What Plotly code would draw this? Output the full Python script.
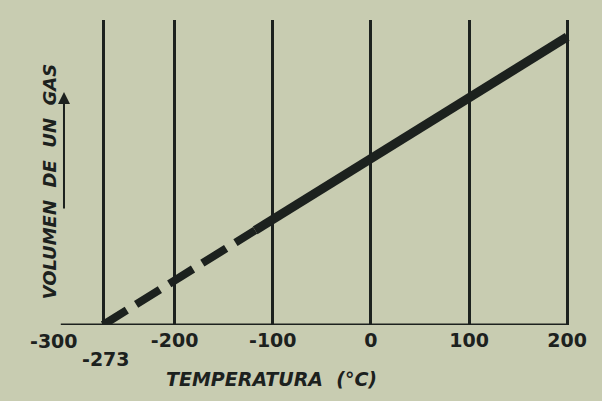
import plotly.graph_objects as go

# ---- data ----
VERTICAL_LINES = [-273, -200, -100, 0, 100, 200]
TICK_TEXT = ["", "-200", "-100", "0", "100", "200"]
EXTRA_LABELS = ["-300", "-273"]
EXTRA_LABEL_X = [-323, -270]

AXIS_X = [-316, 200]
AXIS_Y = [0, 0]

TEMP_DASHED = [-273, -118]
VOL_DASHED = [0.0, 0.57]
TEMP_SOLID = [-118, 200]
VOL_SOLID = [0.57, 1.735]

BG = "#c8ccb1"
INK = "#1c211e"
FONT = "DejaVu Sans"

fig = go.Figure()

fig.add_trace(go.Scatter(x=AXIS_X, y=AXIS_Y, mode="lines",
                         line=dict(color=INK, width=3), hoverinfo="skip"))
fig.add_trace(go.Scatter(x=TEMP_DASHED, y=VOL_DASHED, mode="lines",
                         line=dict(color=INK, width=8, dash="28px,11px"),
                         hoverinfo="skip"))
fig.add_trace(go.Scatter(x=TEMP_SOLID, y=VOL_SOLID, mode="lines",
                         line=dict(color=INK, width=9), hoverinfo="skip"))

fig.update_xaxes(range=[-327, 211], tickvals=VERTICAL_LINES, ticktext=TICK_TEXT,
                 showgrid=True, gridcolor=INK, gridwidth=3, zeroline=False,
                 showline=False, ticks="", ticklabelstandoff=2,
                 tickfont=dict(family=FONT, size=19, color=INK, weight="bold"))
fig.update_yaxes(range=[0, 1.837], showgrid=False, zeroline=False,
                 showticklabels=False, showline=False, ticks="")

annotations = []
for txt, xv, yshift in zip(EXTRA_LABELS, EXTRA_LABEL_X, [-16, -34]):
    annotations.append(dict(x=xv, y=0, xref="x", yref="y", text=txt,
                            showarrow=False, yshift=yshift,
                            font=dict(family=FONT, size=19, color=INK,
                                      weight="bold")))

annotations.append(dict(x=0.419, y=-0.219, xref="paper", yref="paper",
                        text="<i>TEMPERATURA  (°C)</i>", showarrow=False,
                        font=dict(family=FONT, size=19, color=INK,
                                  weight="bold")))
annotations.append(dict(x=-0.023, y=0.469, xref="paper", yref="paper",
                        text="<i>VOLUMEN  DE  UN  GAS</i>", textangle=-90,
                        showarrow=False,
                        font=dict(family=FONT, size=18, color=INK,
                                  weight="bold")))
annotations.append(dict(x=0.0265, y=0.764, xref="paper", yref="paper",
                        text="", showarrow=True, ax=0, ay=118,
                        arrowhead=2, arrowsize=1.2, arrowwidth=2,
                        arrowcolor=INK))

fig.update_layout(width=602, height=401, showlegend=False,
                  paper_bgcolor=BG, plot_bgcolor=BG,
                  margin=dict(l=50, r=24, t=20, b=76),
                  annotations=annotations)

fig.write_html("out.html", config={"displayModeBar": False},
               post_script="document.body.style.margin='0';"
                           "document.body.style.background='" + BG + "';")
